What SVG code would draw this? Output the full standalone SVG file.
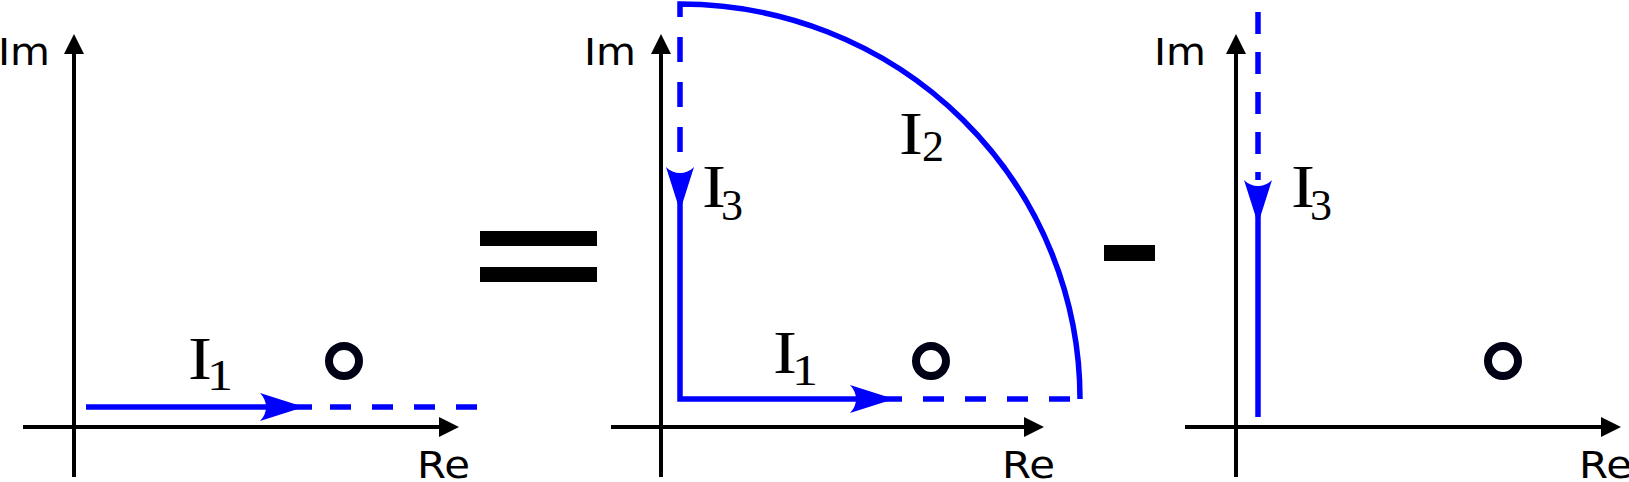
<svg xmlns="http://www.w3.org/2000/svg" width="1629" height="482" viewBox="0 0 1629 482">
<style>
.ax{stroke:#000;stroke-width:4;fill:none}
.axh{fill:#000}
.bl{stroke:#0000ff;stroke-width:5.5;fill:none;stroke-linejoin:miter}
.dh{stroke-dasharray:21 21}
.dv{stroke-dasharray:25 20}
.dv3{stroke-dasharray:22 18}
.ah{fill:#0000ff}
.pole{fill:none;stroke:#000014;stroke-width:8}
.lab{font-family:"DejaVu Sans",sans-serif;font-size:37px;fill:#000}
.big{font-family:"Liberation Serif",serif;font-size:62px;fill:#000}
.sub{font-family:"Liberation Serif",serif;font-size:44px;fill:#000}
.op{fill:#000}
</style>
<defs>
<path id="arr" d="M 0 0 L -44 -14 C -36 -6 -36 6 -44 14 Z"/>
<path id="axup" d="M 0 0 L -10 20 L 10 20 Z"/>
<path id="axright" d="M 0 0 L -20 -10 L -20 10 Z"/>
</defs>

<g id="panel1-axes">
<line class="ax" x1="74" y1="477" x2="74" y2="50"/>
<use href="#axup" class="axh" x="74" y="34"/>
<line class="ax" x1="23" y1="427" x2="442" y2="427"/>
<use href="#axright" class="axh" x="459" y="427"/>
<text class="lab" x="-2" y="65" textLength="52" lengthAdjust="spacingAndGlyphs">Im</text>
<text class="lab" x="417" y="478" textLength="53" lengthAdjust="spacingAndGlyphs">Re</text>
</g>
<g id="panel1-pole"><circle class="pole" cx="344" cy="361" r="15"/></g>
<g id="panel1-label"><text class="big" x="188" y="379" textLength="24" lengthAdjust="spacingAndGlyphs">I</text><text class="sub" x="207" y="390" textLength="26" lengthAdjust="spacingAndGlyphs">1</text></g>

<g id="equals">
<rect class="op" x="480" y="231" width="117" height="15"/>
<rect class="op" x="480" y="267" width="117" height="15"/>
</g>

<g id="panel2-axes">
<line class="ax" x1="661" y1="477" x2="661" y2="50"/>
<use href="#axup" class="axh" x="661" y="34"/>
<line class="ax" x1="611" y1="427" x2="1027" y2="427"/>
<use href="#axright" class="axh" x="1044" y="427"/>
<text class="lab" x="584" y="65" textLength="52" lengthAdjust="spacingAndGlyphs">Im</text>
<text class="lab" x="1002" y="478" textLength="53" lengthAdjust="spacingAndGlyphs">Re</text>
</g>
<g id="panel2-pole"><circle class="pole" cx="931" cy="361" r="15"/></g>
<g id="panel2-labels">
<text class="big" x="773" y="373" textLength="24" lengthAdjust="spacingAndGlyphs">I</text><text class="sub" x="792" y="385" textLength="26" lengthAdjust="spacingAndGlyphs">1</text>
<text class="big" x="899" y="154" textLength="24" lengthAdjust="spacingAndGlyphs">I</text><text class="sub" x="922" y="161">2</text>
<text class="big" x="702" y="207" textLength="24" lengthAdjust="spacingAndGlyphs">I</text><text class="sub" x="721" y="220">3</text>
</g>

<g id="minus"><rect class="op" x="1104" y="245" width="51" height="16"/></g>

<g id="panel3-axes">
<line class="ax" x1="1236" y1="477" x2="1236" y2="50"/>
<use href="#axup" class="axh" x="1236" y="34"/>
<line class="ax" x1="1185" y1="427" x2="1604" y2="427"/>
<use href="#axright" class="axh" x="1621" y="427"/>
<text class="lab" x="1154" y="65" textLength="52" lengthAdjust="spacingAndGlyphs">Im</text>
<text class="lab" x="1579" y="478" textLength="53" lengthAdjust="spacingAndGlyphs">Re</text>
</g>
<g id="panel3-pole"><circle class="pole" cx="1503" cy="361" r="15"/></g>
<g id="panel3-label"><text class="big" x="1291" y="207" textLength="24" lengthAdjust="spacingAndGlyphs">I</text><text class="sub" x="1310" y="220">3</text></g>

<g id="connectors">
<line class="bl" x1="86" y1="407" x2="312" y2="407"/>
<line class="bl dh" x1="330" y1="407" x2="478" y2="407"/>
<use href="#arr" class="ah" transform="translate(304 407)"/>

<path class="bl" d="M 1080 399 A 400 395 0 0 0 680 4 V 17"/>
<line class="bl dv" x1="680" y1="37" x2="680" y2="168"/>
<path class="bl" d="M 680 175 V 399 H 902"/>
<line class="bl dh" x1="923" y1="399" x2="1072" y2="399"/>
<use href="#arr" class="ah" transform="translate(894 399)"/>
<use href="#arr" class="ah" transform="translate(680 211) rotate(90)"/>

<line class="bl dv3" x1="1258" y1="12" x2="1258" y2="180"/>
<line class="bl" x1="1258" y1="195" x2="1258" y2="417"/>
<use href="#arr" class="ah" transform="translate(1258 224) rotate(90)"/>
</g>
</svg>
